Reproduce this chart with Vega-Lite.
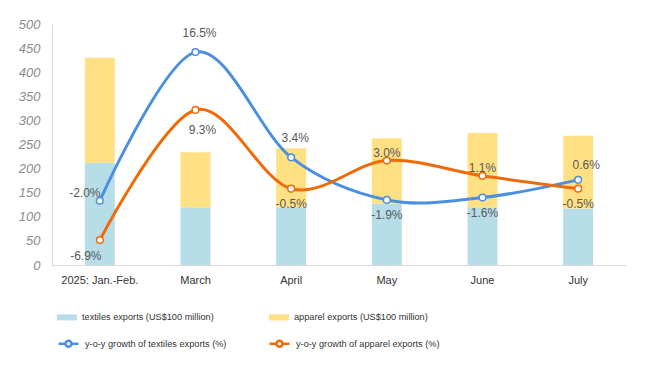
{
  "$schema": "https://vega.github.io/schema/vega-lite/v6.json",
  "width": 574,
  "height": 241,
  "autosize": {"type": "none"},
  "padding": {"left": 52, "top": 24, "right": 24, "bottom": 101},
  "background": "white",
  "config": {"view": {"stroke": null}, "font": "Liberation Sans"},
  "data": {"values": [
    {"month": "2025: Jan.-Feb.", "textiles": 212, "apparel": 218, "tg": -2.0, "ag": -6.9},
    {"month": "March", "textiles": 120, "apparel": 114, "tg": 16.5, "ag": 9.3},
    {"month": "April", "textiles": 120, "apparel": 122, "tg": 3.4, "ag": -0.5},
    {"month": "May", "textiles": 127, "apparel": 136, "tg": -1.9, "ag": 3.0},
    {"month": "June", "textiles": 120, "apparel": 154, "tg": -1.6, "ag": 1.1},
    {"month": "July", "textiles": 117, "apparel": 151, "tg": 0.6, "ag": -0.5}
  ]},
  "layer": [
    {
      "transform": [{"fold": ["textiles", "apparel"], "as": ["kind", "value"]}],
      "mark": {"type": "bar", "size": 30},
      "encoding": {
        "x": {"field": "month", "type": "nominal", "sort": ["2025: Jan.-Feb.", "March", "April", "May", "June", "July"],
          "scale": {"paddingInner": 0, "paddingOuter": 0},
          "title": null,
          "axis": {"labelAngle": 0, "ticks": false, "domainColor": "#d9d9d9", "labelColor": "#333333", "labelFontSize": 11, "labelPadding": 9}},
        "y": {"field": "value", "type": "quantitative", "stack": "zero", "scale": {"domain": [0, 500]}, "title": null,
          "axis": {"values": [0, 50, 100, 150, 200, 250, 300, 350, 400, 450, 500], "grid": false, "ticks": false, "domainColor": "#d9d9d9", "labelColor": "#8c8c8c", "labelFontSize": 13, "labelFontStyle": "italic", "labelPadding": 12}},
        "fill": {"field": "kind", "type": "nominal",
          "scale": {"domain": ["textiles", "apparel"], "range": ["#B7DDE8", "#FFE083"]},
          "legend": {"title": null, "orient": "none", "legendX": 5, "legendY": 283, "direction": "horizontal",
            "symbolType": "M-1,-0.3H1V0.3H-1Z", "symbolSize": 400, "symbolStrokeWidth": 0,
            "labelFontSize": 9.2, "labelColor": "#333333", "labelOffset": 5, "labelLimit": 400, "columnPadding": 55,
            "labelExpr": "datum.label == 'textiles' ? 'textiles exports (US$100 million)' : 'apparel exports (US$100 million)'"}},
        "order": {"field": "kind", "sort": "descending"}
      }
    },
    {
      "transform": [{"fold": ["tg", "ag"], "as": ["series", "growth"]}],
      "encoding": {
        "x": {"field": "month", "type": "nominal", "sort": ["2025: Jan.-Feb.", "March", "April", "May", "June", "July"]},
        "y": {"field": "growth", "type": "quantitative", "scale": {"domain": [-10, 20]}, "axis": null}
      },
      "layer": [
        {
          "mark": {"type": "line", "interpolate": "cardinal", "strokeWidth": 3},
          "encoding": {
            "stroke": {"field": "series", "type": "nominal",
              "scale": {"domain": ["tg", "ag"], "range": ["#4A8FE0", "#F06A0A"]},
              "legend": {"title": null, "orient": "none", "legendX": 5, "legendY": 308, "direction": "horizontal",
                "symbolType": "M-1,0H-0.3M0.3,0H1M0.3,0A0.3,0.3,0,1,1,-0.3,0A0.3,0.3,0,1,1,0.3,0",
                "symbolSize": 400, "symbolStrokeWidth": 2.5, "symbolFillColor": "white",
                "labelFontSize": 9.2, "labelColor": "#333333", "labelOffset": 5, "labelLimit": 400, "columnPadding": 37,
                "labelExpr": "datum.label == 'tg' ? 'y-o-y growth of textiles exports (%)' : 'y-o-y growth of apparel exports (%)'"}}
          }
        },
        {
          "mark": {"type": "point", "filled": true, "fill": "white", "size": 45, "strokeWidth": 1.5, "opacity": 1},
          "encoding": {"stroke": {"field": "series", "type": "nominal"}}
        },
        {
          "transform": [
            {"filter": "datum.series == 'tg' && (datum.month == 'March' || datum.month == 'April')"},
            {"calculate": "replace(format(datum.growth, '.1f'), '\u2212', '-') + '%'", "as": "lab"}
          ],
          "mark": {"type": "text", "fontSize": 12, "fill": "#595959", "dx": 4, "dy": -19},
          "encoding": {"text": {"field": "lab"}}
        },
        {
          "transform": [
            {"filter": "datum.series == 'tg' && datum.month == 'July'"},
            {"calculate": "replace(format(datum.growth, '.1f'), '\u2212', '-') + '%'", "as": "lab"}
          ],
          "mark": {"type": "text", "fontSize": 12, "fill": "#595959", "dx": 8, "dy": -15},
          "encoding": {"text": {"field": "lab"}}
        },
        {
          "transform": [
            {"filter": "datum.series == 'ag' && (datum.month == 'May' || datum.month == 'June')"},
            {"calculate": "replace(format(datum.growth, '.1f'), '\u2212', '-') + '%'", "as": "lab"}
          ],
          "mark": {"type": "text", "fontSize": 12, "fill": "#595959", "dx": 0, "dy": -8},
          "encoding": {"text": {"field": "lab"}}
        },
        {
          "transform": [
            {"filter": "datum.series == 'tg' && datum.month == '2025: Jan.-Feb.'"},
            {"calculate": "replace(format(datum.growth, '.1f'), '\u2212', '-') + '%'", "as": "lab"}
          ],
          "mark": {"type": "text", "fontSize": 12, "fill": "#595959", "dx": -15, "dy": -8},
          "encoding": {"text": {"field": "lab"}}
        },
        {
          "transform": [
            {"filter": "(datum.series == 'ag' && (datum.month == 'April' || datum.month == 'July')) || (datum.series == 'tg' && (datum.month == 'May' || datum.month == 'June'))"},
            {"calculate": "replace(format(datum.growth, '.1f'), '\u2212', '-') + '%'", "as": "lab"}
          ],
          "mark": {"type": "text", "fontSize": 12, "fill": "#595959", "dx": 0, "dy": 15},
          "encoding": {"text": {"field": "lab"}}
        },
        {
          "transform": [
            {"filter": "datum.series == 'ag' && datum.month == 'March'"},
            {"calculate": "replace(format(datum.growth, '.1f'), '\u2212', '-') + '%'", "as": "lab"}
          ],
          "mark": {"type": "text", "fontSize": 12, "fill": "#595959", "dx": 7, "dy": 20},
          "encoding": {"text": {"field": "lab"}}
        },
        {
          "transform": [
            {"filter": "datum.series == 'ag' && datum.month == '2025: Jan.-Feb.'"},
            {"calculate": "replace(format(datum.growth, '.1f'), '\u2212', '-') + '%'", "as": "lab"}
          ],
          "mark": {"type": "text", "fontSize": 12, "fill": "#595959", "dx": -14, "dy": 16},
          "encoding": {"text": {"field": "lab"}}
        }
      ]
    }
  ],
  "resolve": {"scale": {"y": "independent"}}
}
